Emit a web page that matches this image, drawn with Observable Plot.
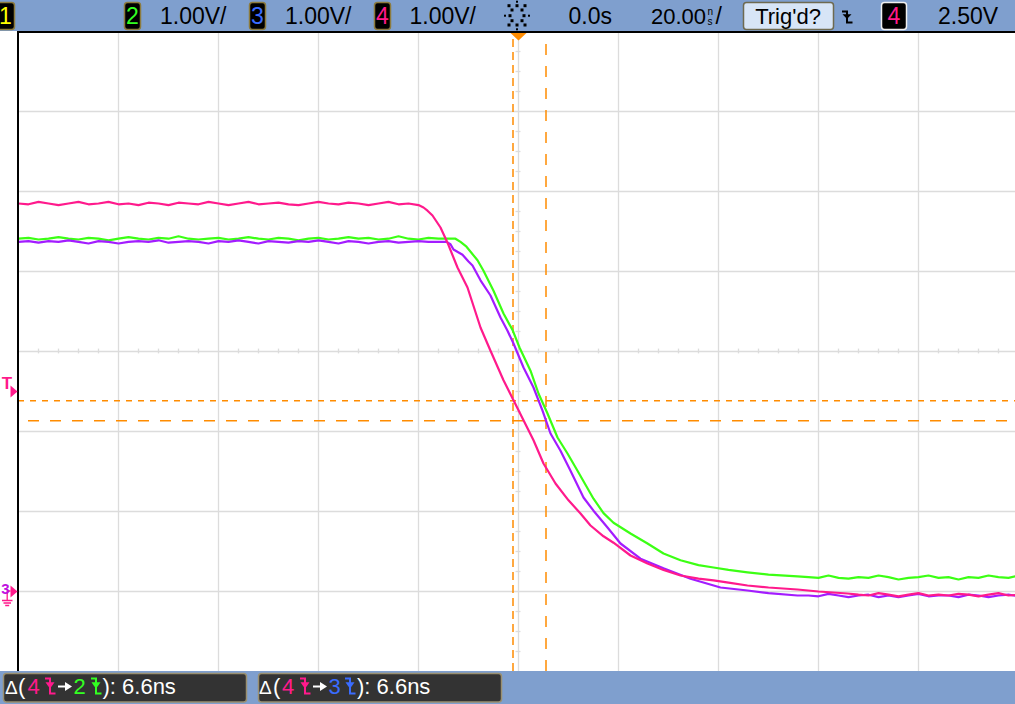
<!DOCTYPE html>
<html><head><meta charset="utf-8">
<script src="https://cdn.jsdelivr.net/npm/d3@7"></script>
<script src="https://cdn.jsdelivr.net/npm/@observablehq/plot@0.6"></script>
<style>
html,body{margin:0;padding:0;background:#fff;}
#wrap{position:relative;width:1015px;height:704px;overflow:hidden;font-family:"Liberation Sans",Arial,sans-serif;}
#wrap > svg{position:absolute;left:0;}
</style></head><body><div id="wrap"></div>
<script>
// ---------- DATA (time in ns, voltage in V; 20 ns/div, 1 V/div) ----------
const timeGrid = [-80, -60, -40, -20, 0, 20, 40, 60, 80];
const voltGrid = [0, 1, 2, 3, 4, 5, 6];

// channel 4 (pink) : samples every 2 ns
const pinkHeadStart = -100;
const pinkHeadV = [4.85,4.84,4.87,4.85,4.83,4.85,4.87,4.84,4.85,4.87,4.84,4.85,4.83,4.86,4.85,4.83,4.86,4.85,4.84,4.87,4.85,4.83,4.85,4.87,4.84,4.85,4.86,4.84,4.83,4.85,4.87,4.85,4.84,4.86,4.85,4.83,4.85,4.87,4.84,4.85,4.83];
const pinkEdge = [[-19,4.80],[-18.2,4.76],[-17.2,4.70],[-15.6,4.55],[-14.2,4.36],[-12.2,4.05],[-10.2,3.80],[-7.6,3.30],[-5.6,3.01],[-3,2.64],[-1,2.39],[1,2.14],[3,1.89],[5,1.60],[7.4,1.35],[10,1.14],[12.4,0.975],[14.4,0.825],[17,0.69],[19,0.61],[22.4,0.45],[25.8,0.35],[29,0.27],[32.4,0.20],[36,0.16],[39,0.14],[42,0.11],[45.8,0.075],[50,0.05],[55.8,0.025],[60,0.0],[65.8,-0.025]];
const pinkTailStart = 68;
const pinkTailV = [-0.04,-0.05,-0.02,-0.04,-0.06,-0.04,-0.02,-0.05,-0.04,-0.05,-0.03,-0.04,-0.06,-0.04,-0.02,-0.05,-0.04];

// channel 2 (green)
const greenHeadStart = -100;
const greenHeadV = [4.41,4.42,4.40,4.41,4.43,4.41,4.40,4.42,4.41,4.39,4.41,4.43,4.41,4.40,4.42,4.41,4.44,4.41,4.40,4.41,4.42,4.40,4.41,4.43,4.41,4.40,4.42,4.41,4.39,4.41,4.42,4.40,4.41,4.43,4.41,4.42,4.40,4.41,4.44,4.41,4.40,4.42,4.41,4.41];
const greenEdge = [[-12.6,4.41],[-11.6,4.37],[-10.4,4.31],[-8.2,4.14],[-7,4.01],[-5,3.76],[-3,3.475],[-1.2,3.27],[0.2,3.05],[2.4,2.76],[4,2.475],[5.8,2.225],[7.8,1.925],[9.8,1.725],[11.8,1.51],[15,1.16],[17,0.98],[19,0.86],[22.4,0.725],[25.8,0.60],[29,0.475],[32.4,0.39],[36,0.33],[39,0.30],[42,0.27],[45.8,0.24],[50,0.21],[55.8,0.19]];
const greenTailStart = 58;
const greenTailV = [0.18,0.17,0.20,0.17,0.16,0.18,0.17,0.20,0.18,0.15,0.17,0.18,0.20,0.17,0.18,0.15,0.18,0.17,0.20,0.18,0.17,0.20];

// channel 3 (purple)
const purpleHeadStart = -100;
const purpleHeadV = [4.37,4.38,4.36,4.38,4.37,4.39,4.37,4.35,4.38,4.37,4.35,4.37,4.38,4.37,4.39,4.36,4.37,4.38,4.37,4.35,4.38,4.37,4.39,4.37,4.35,4.38,4.37,4.36,4.38,4.37,4.39,4.37,4.35,4.38,4.37,4.35,4.37,4.38,4.36,4.37,4.38,4.37,4.37];
const purpleEdge = [[-14.4,4.37],[-13.6,4.34],[-13,4.275],[-11.2,4.21],[-10,4.125],[-9.2,4.075],[-7.6,3.89],[-5.6,3.70],[-3.6,3.425],[-2.2,3.26],[-1,3.10],[1,2.80],[3,2.55],[4.8,2.26],[6.4,1.975],[8.4,1.76],[10.4,1.51],[13,1.175],[15,1.01],[17.8,0.80],[20.4,0.60],[24.4,0.41],[29,0.29],[34.4,0.16],[40.4,0.05],[45.8,0.0125],[50,-0.02],[55.8,-0.05]];
const purpleTailStart = 58;
const purpleTailV = [-0.05,-0.06,-0.03,-0.05,-0.07,-0.05,-0.04,-0.07,-0.05,-0.07,-0.05,-0.03,-0.06,-0.05,-0.05,-0.07,-0.04,-0.05,-0.07,-0.05,-0.04,-0.06];

// cursors / trigger
const cursorTimes = [-1.1, 5.5];
const cursorVolts = [2.385, 2.135];
const triggerLevel = 2.5;
const groundLevel = 0;

// header / footer labels
const chLabels = [{ch:"1",color:"#ffff00"},{ch:"2",color:"#33ff22"},{ch:"3",color:"#3a6cff"},{ch:"4",color:"#ff1a8c"}];
const scaleLabel = "1.00V/";
const delayLabel = "0.0s";
const timebaseLabel = "20.00";
const trigLabel = "Trig'd?";
const trigLevelLabel = "2.50V";
const deltaValue = "6.6ns";

// ---------- COLORS ----------
const PINK = "#ff1a8c", GREEN = "#3cff14", PURPLE = "#a31cff", ORANGE = "#ff8c00", GRID = "#dcdcdc", BLUE_BAR = "#7f9fce";

function build(headV, headStart, edgePts, tailV, tailStart) {
  const pts = [];
  headV.forEach((v, i) => pts.push({t: headStart + i * 2, v}));
  edgePts.forEach(([t, v]) => pts.push({t, v}));
  tailV.forEach((v, i) => pts.push({t: tailStart + i * 2, v}));
  return pts;
}
const pink = build(pinkHeadV, pinkHeadStart, pinkEdge, pinkTailV, pinkTailStart);
const green = build(greenHeadV, greenHeadStart, greenEdge, greenTailV, greenTailStart);
const purple = build(purpleHeadV, purpleHeadStart, purpleEdge, purpleTailV, purpleTailStart);

const xMinor = d3.range(-96, 97, 4).filter(t => t % 20 !== 0);
const yMinor = d3.range(-0.75, 6.9, 0.25).filter(v => Math.abs(v - Math.round(v)) > 1e-6);

// custom symbols
const triRight = {draw(c){ c.moveTo(-7,-6); c.lineTo(0,0); c.lineTo(-7,6); c.closePath(); }};
const triDown = {draw(c){ c.moveTo(-8,1.5); c.lineTo(8,1.5); c.lineTo(0,9); c.closePath(); }};
const groundSym = {draw(c){
  c.moveTo(-8,-0.5); c.lineTo(-11.3,-0.5); c.lineTo(-11.3,9);
  c.moveTo(-16.5,9); c.lineTo(-6,9);
  c.moveTo(-15,11.5); c.lineTo(-7.5,11.5);
  c.moveTo(-13.3,14); c.lineTo(-9.3,14);
}};

const plot = Plot.plot({
  width: 1015, height: 704, margin: 0,
  x: {domain: [-100, 100], range: [18, 1018], axis: null},
  y: {domain: [-1, 7], range: [671, 31], axis: null},
  style: {background: "#fff", overflow: "hidden", fontFamily: "Liberation Sans, Arial, sans-serif"},
  marks: [
    Plot.ruleX(timeGrid, {y1: -1, y2: 7, stroke: GRID, strokeWidth: 1.3}),
    Plot.ruleY(voltGrid, {x1: -100, x2: 100, stroke: GRID, strokeWidth: 1.3}),
    Plot.ruleX(xMinor, {y1: 2.97, y2: 3.03, stroke: GRID, strokeWidth: 1.3}),
    Plot.ruleY(yMinor, {x1: -0.5, x2: 0.5, stroke: GRID, strokeWidth: 1.3}),
    Plot.ruleX([cursorTimes[0]], {y1: -1, y2: 7, stroke: ORANGE, strokeWidth: 1.5, strokeDasharray: "8,5"}),
    Plot.ruleX([cursorTimes[1]], {y1: -1, y2: 6.9, stroke: ORANGE, strokeWidth: 1.5, strokeDasharray: "11,11"}),
    Plot.ruleY([cursorVolts[0]], {x1: -100, x2: 100, stroke: ORANGE, strokeWidth: 1.5, strokeDasharray: "6,6"}),
    Plot.ruleY([cursorVolts[1]], {x1: -98, x2: 100, stroke: ORANGE, strokeWidth: 1.5, strokeDasharray: "11,11"}),
    Plot.line(green, {x: "t", y: "v", stroke: GREEN, strokeWidth: 2.2}),
    Plot.line(purple, {x: "t", y: "v", stroke: PURPLE, strokeWidth: 2.2}),
    Plot.line(pink, {x: "t", y: "v", stroke: PINK, strokeWidth: 2.2}),
    Plot.ruleX([-100.1], {y1: -1, y2: 7, stroke: "#000", strokeWidth: 2}),
    Plot.ruleY([6.994], {x1: -100, x2: 100, stroke: "#000", strokeWidth: 2}),
    Plot.dot([{t: 0, v: 7}], {x: "t", y: "v", symbol: triDown, fill: ORANGE, stroke: "none"}),
    Plot.dot([{t: -100, v: triggerLevel}], {x: "t", y: "v", symbol: triRight, fill: PINK, stroke: "none", dx: -1}),
    Plot.text([{t: -100, v: triggerLevel, s: "T"}], {x: "t", y: "v", text: "s", fill: PINK, fontSize: 17, fontWeight: "bold", dx: -11.5, dy: -8}),
    Plot.dot([{t: -100, v: groundLevel}], {x: "t", y: "v", symbol: triRight, fill: PINK, stroke: "none", dx: -1}),
    Plot.dot([{t: -100, v: groundLevel}], {x: "t", y: "v", symbol: groundSym, fill: "none", stroke: PINK, strokeWidth: 1.3}),
    Plot.text([{t: -100, v: groundLevel, s: "3"}], {x: "t", y: "v", text: "s", fill: "#c010e0", fontSize: 15, fontWeight: "bold", dx: -13, dy: -2})
  ]
});
plot.style.top = "0px";
const wrap = document.getElementById("wrap");
wrap.appendChild(plot);

// ---------- header ----------
const FONT = `font-family="Liberation Sans, Arial, sans-serif"`;
function edgeSym(x0, y0, h, color) {
  return `<path d="M${x0-5},${y0}H${x0}V${y0+h}H${x0+5.5}" fill="none" stroke="${color}" stroke-width="2"/>` +
         `<path d="M${x0-4.5},${y0+0.25*h}H${x0+4.5}L${x0},${y0+0.68*h}Z" fill="${color}"/>`;
}
function arrowSym(x1, x2, y, color) {
  return `<path d="M${x1},${y}H${x2-5}" stroke="${color}" stroke-width="2"/>` +
         `<path d="M${x2-7},${y-4.5}L${x2},${y}L${x2-7},${y+4.5}Z" fill="${color}"/>`;
}
function chBox(x, w, label, color, border, tx) {
  return `<rect x="${x}" y="2.5" width="${w}" height="27" rx="3" fill="#000" stroke="${border}" stroke-width="1.5"/>` +
         `<text x="${tx ?? (x + w/2)}" y="24" text-anchor="middle" font-size="23" fill="${color}" ${FONT}>${label}</text>`;
}
let spark = "";
const big = [[-7,0],[7,0],[-5,-5.7],[5,-5.7],[-5,5],[5,5],[0,-10],[0,9.3],[-8,-10],[8,-10],[-8,9.3],[8,9.3]];
const small = [[-12,0],[12,0],[0,-14],[0,13.6]];
big.forEach(([dx,dy]) => spark += `<rect x="${517+dx-1.5}" y="${15.7+dy-1.5}" width="3" height="3" fill="#000"/>`);
small.forEach(([dx,dy]) => spark += `<rect x="${517+dx-1}" y="${15.7+dy-1}" width="2" height="2" fill="#000"/>`);

const OLIVE = "#8c7b3e";
const header = `<svg width="1015" height="31" style="top:0" xmlns="http://www.w3.org/2000/svg">
<rect x="0" y="0" width="1015" height="31" fill="${BLUE_BAR}"/>
${chBox(-3, 17.5, chLabels[0].ch, chLabels[0].color, OLIVE, 5.5)}
${chBox(124.5, 16, chLabels[1].ch, chLabels[1].color, OLIVE)}
<text x="160" y="24" font-size="23" fill="#000" ${FONT}>${scaleLabel}</text>
${chBox(249.5, 16, chLabels[2].ch, chLabels[2].color, OLIVE)}
<text x="285" y="24" font-size="23" fill="#000" ${FONT}>${scaleLabel}</text>
${chBox(374.5, 16, chLabels[3].ch, chLabels[3].color, OLIVE)}
<text x="409.5" y="24" font-size="23" fill="#000" ${FONT}>${scaleLabel}</text>
${spark}
<text x="568.5" y="24" font-size="23" fill="#000" ${FONT}>${delayLabel}</text>
<text x="651" y="24" font-size="22" fill="#000" ${FONT}>${timebaseLabel}</text>
<text x="707.5" y="14.5" font-size="10" fill="#000" ${FONT}>n</text>
<text x="707.5" y="24.5" font-size="10" fill="#000" ${FONT}>s</text>
<text x="715.5" y="24" font-size="23" fill="#000" ${FONT}>/</text>
<rect x="743.5" y="2.5" width="90" height="27" rx="3" fill="#d7e5f7" stroke="#6e6a50" stroke-width="1.5"/>
<text x="788" y="24" text-anchor="middle" font-size="22" fill="#000" ${FONT}>${trigLabel}</text>
${edgeSym(847, 11.5, 11, "#000")}
${chBox(881.5, 25, chLabels[3].ch, chLabels[3].color, "#f0f0f0")}
<text x="938" y="24" font-size="23" fill="#000" ${FONT}>${trigLevelLabel}</text>
</svg>`;

// ---------- footer ----------
function deltaBox(x0, toLabel, toColor, pos) {
  const T = (x, s, c, fs = 22) => `<text x="${x}" y="694" font-size="${fs}" fill="${c}" ${FONT}>${s}</text>`;
  return `<rect x="${x0}" y="673.5" width="243" height="28.5" rx="3" fill="#333" stroke="#9a9070" stroke-width="1.5"/>` +
    T(pos[0], "Δ", "#fff", 19) + T(pos[1], "(", "#fff") + T(pos[2], "4", PINK) + edgeSym(pos[3], 678.5, 15, PINK) +
    arrowSym(pos[4], pos[4] + 14, 686.5, "#fff") + T(pos[5], toLabel, toColor) + edgeSym(pos[6], 678.5, 15, toColor) +
    T(pos[7], "): " + deltaValue, "#fff");
}
const footer = `<svg width="1015" height="704" style="top:0;pointer-events:none" xmlns="http://www.w3.org/2000/svg">
<rect x="0" y="671" width="1015" height="33" fill="${BLUE_BAR}"/>
${deltaBox(3.5, chLabels[1].ch, chLabels[1].color, [5, 18, 27.5, 50, 58, 73.5, 96, 102.5])}
${deltaBox(258.5, chLabels[2].ch, chLabels[2].color, [259, 273, 282, 305, 313, 328.5, 350, 357])}
</svg>`;

wrap.insertAdjacentHTML("beforeend", header);
wrap.insertAdjacentHTML("beforeend", footer);
</script>
</body></html>
